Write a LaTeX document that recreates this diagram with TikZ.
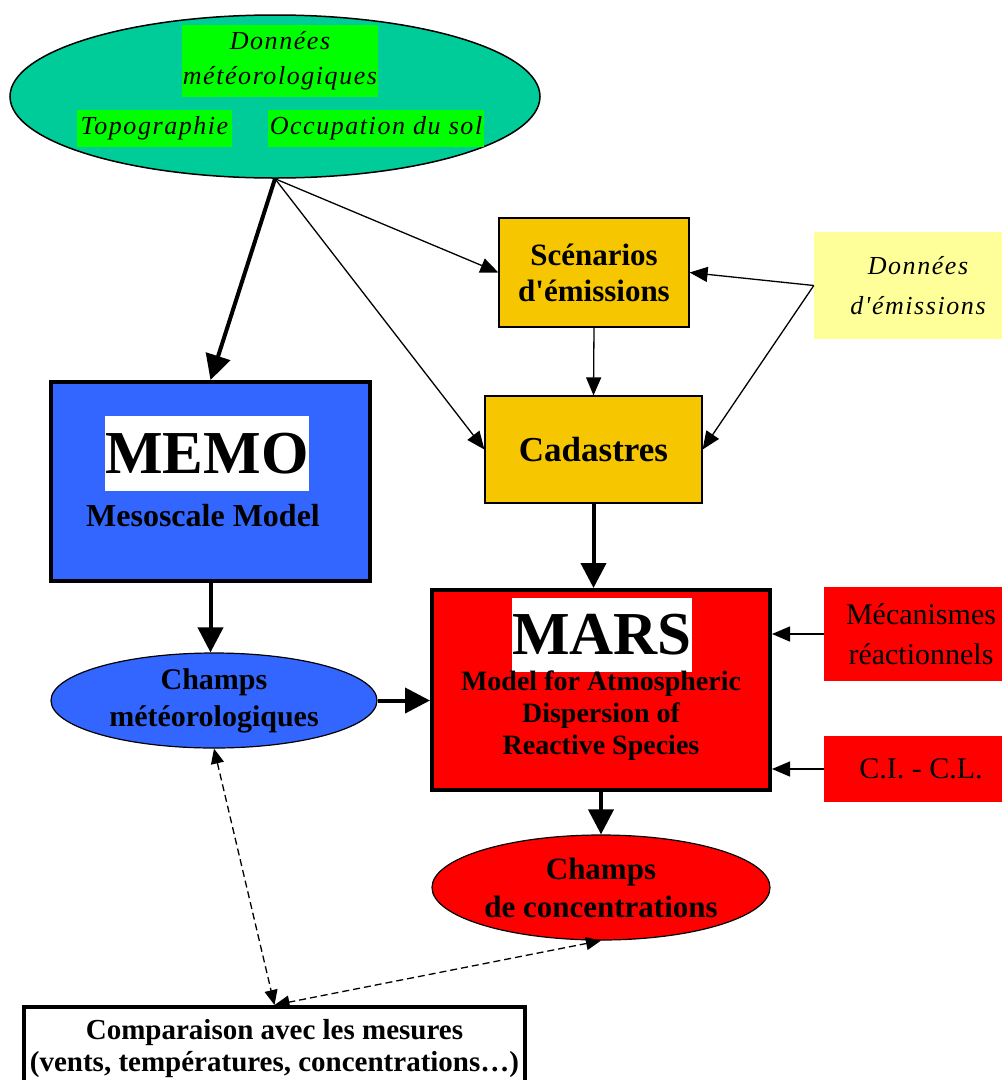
\documentclass[tikz,border=0pt]{standalone}
\usepackage{fontspec}
\setmainfont{Liberation Serif}
\newfontfamily\espace[LetterSpace=6]{Liberation Serif}
\usetikzlibrary{arrows.meta,shapes.geometric}
\definecolor{turquoise}{RGB}{0,204,153}
\definecolor{vert}{RGB}{0,255,0}
\definecolor{ambre}{RGB}{246,198,0}
\definecolor{paille}{RGB}{255,255,153}
\definecolor{bleu}{RGB}{51,102,255}
\tikzset{
  boite/.style={draw,line width=1.2pt,fill=ambre,inner sep=0pt,align=center},
  modele/.style={draw,line width=4pt,inner sep=0pt},
  blanc/.style={fill=white,inner sep=0pt,font=\bfseries\fontsize{61}{61}\selectfont},
  vertbox/.style={fill=vert,inner sep=0pt,align=center,font=\espace\itshape\fontsize{26}{35}\selectfont},
  rouge/.style={fill=red,inner sep=0pt,align=center,font=\fontsize{30}{40}\selectfont},
  fleche/.style={-{Triangle[length=18pt,width=15pt]},line width=1.3pt},
  grosse/.style={-{Triangle[length=25pt,width=25pt]},line width=4pt},
  tirets/.style={{Triangle[length=15pt,width=13pt]}-{Triangle[length=15pt,width=13pt]},dash pattern=on 7pt off 4pt,line width=1.3pt}
}
\begin{document}
\begin{tikzpicture}[x=1pt,y=-1pt]
\useasboundingbox (0,0) rectangle (1002,1080);
\node[ellipse,draw,line width=1.5pt,fill=turquoise,minimum width=530pt,minimum height=163pt,inner sep=0pt] (ciel) at (275,96.5) {};
\node[vertbox,minimum width=196pt,minimum height=72pt] (meteo) at (280,61) {Données\\météorologiques};
\node[vertbox,minimum width=155pt,minimum height=37pt] (topo) at (154.5,128.5) {Topographie};
\node[vertbox,minimum width=216pt,minimum height=37pt] (sol) at (376,128.5) {Occupation du sol};
\node[boite,minimum width=190pt,minimum height=109pt,font=\bfseries\fontsize{31}{36}\selectfont] (scen) at (594,272.5) {Scénarios\\d\textquotesingle émissions};
\node[fill=paille,inner sep=0pt,align=center,minimum width=208pt,minimum height=107pt,font=\espace\itshape\fontsize{26}{40}\selectfont] (donnees) at (918,285.5) {Données\\d'émissions};
\node[boite,minimum width=217pt,minimum height=107pt,font=\bfseries\fontsize{35}{40}\selectfont] (cad) at (593.5,449.5) {Cadastres};
\node[modele,fill=bleu,minimum width=319pt,minimum height=199pt] (memo) at (210.5,481.5) {};
\node[blanc,minimum width=204pt,minimum height=75pt] (memotitre) at (207,453.5) {MEMO};
\node[font=\bfseries\fontsize{32}{36}\selectfont,inner sep=0pt] (memosous) at (203,516) {Mesoscale Model};
\node[ellipse,draw,line width=1.2pt,fill=bleu,minimum width=326pt,minimum height=95pt,inner sep=0pt,align=center,font=\bfseries\fontsize{30}{37}\selectfont] (champ) at (214,700.5) {Champs\\météorologiques};
\node[modele,fill=red,minimum width=338pt,minimum height=200pt] (mars) at (601,690) {};
\node[blanc,minimum width=180pt,minimum height=74pt] (marstitre) at (602,635) {MARS};
\node[align=center,inner sep=0pt,font=\bfseries\fontsize{28}{32}\selectfont] (marssous) at (601,716) {Model for Atmospheric\\Dispersion of\\Reactive Species};
\node[rouge,minimum width=194pt,minimum height=94pt] (meca) at (921,634) {Mécanismes\\réactionnels};
\node[rouge,minimum width=194pt,minimum height=66pt] (ci) at (921,769) {C.I. - C.L.};
\node[ellipse,draw,line width=1.2pt,fill=red,minimum width=338pt,minimum height=105pt,inner sep=0pt,align=center,font=\bfseries\fontsize{31}{38}\selectfont] (conc) at (601,887.5) {Champs\\de concentrations};
\node[modele,fill=white,minimum width=501pt,minimum height=84pt,align=center,font=\bfseries\fontsize{29}{32}\selectfont] (comp) at (274.5,1049) {Comparaison avec les mesures\\(vents, températures, concentrations…)};
\path
  (ciel.south) edge[grosse] (memo.north)
  (ciel.south) edge[fleche] (scen.west)
  (ciel.south) edge[fleche] (cad.west)
  (scen.south) edge[fleche] (cad.north)
  (donnees.west) edge[fleche] (scen.east)
  (donnees.west) edge[fleche] (cad.east)
  (cad.south) edge[grosse] (cad.south |- mars.north)
  (memo.south) edge[grosse] (memo.south |- champ.north)
  (champ.east) edge[grosse] (champ.east -| mars.west)
  (meca.west) edge[fleche] (meca.west -| mars.east)
  (ci.west) edge[fleche] (ci.west -| mars.east)
  (mars.south) edge[grosse] (conc.north)
  (champ.south) edge[tirets] (comp.north)
  (conc.south) edge[tirets] (comp.north)
;
\end{tikzpicture}
\end{document}
